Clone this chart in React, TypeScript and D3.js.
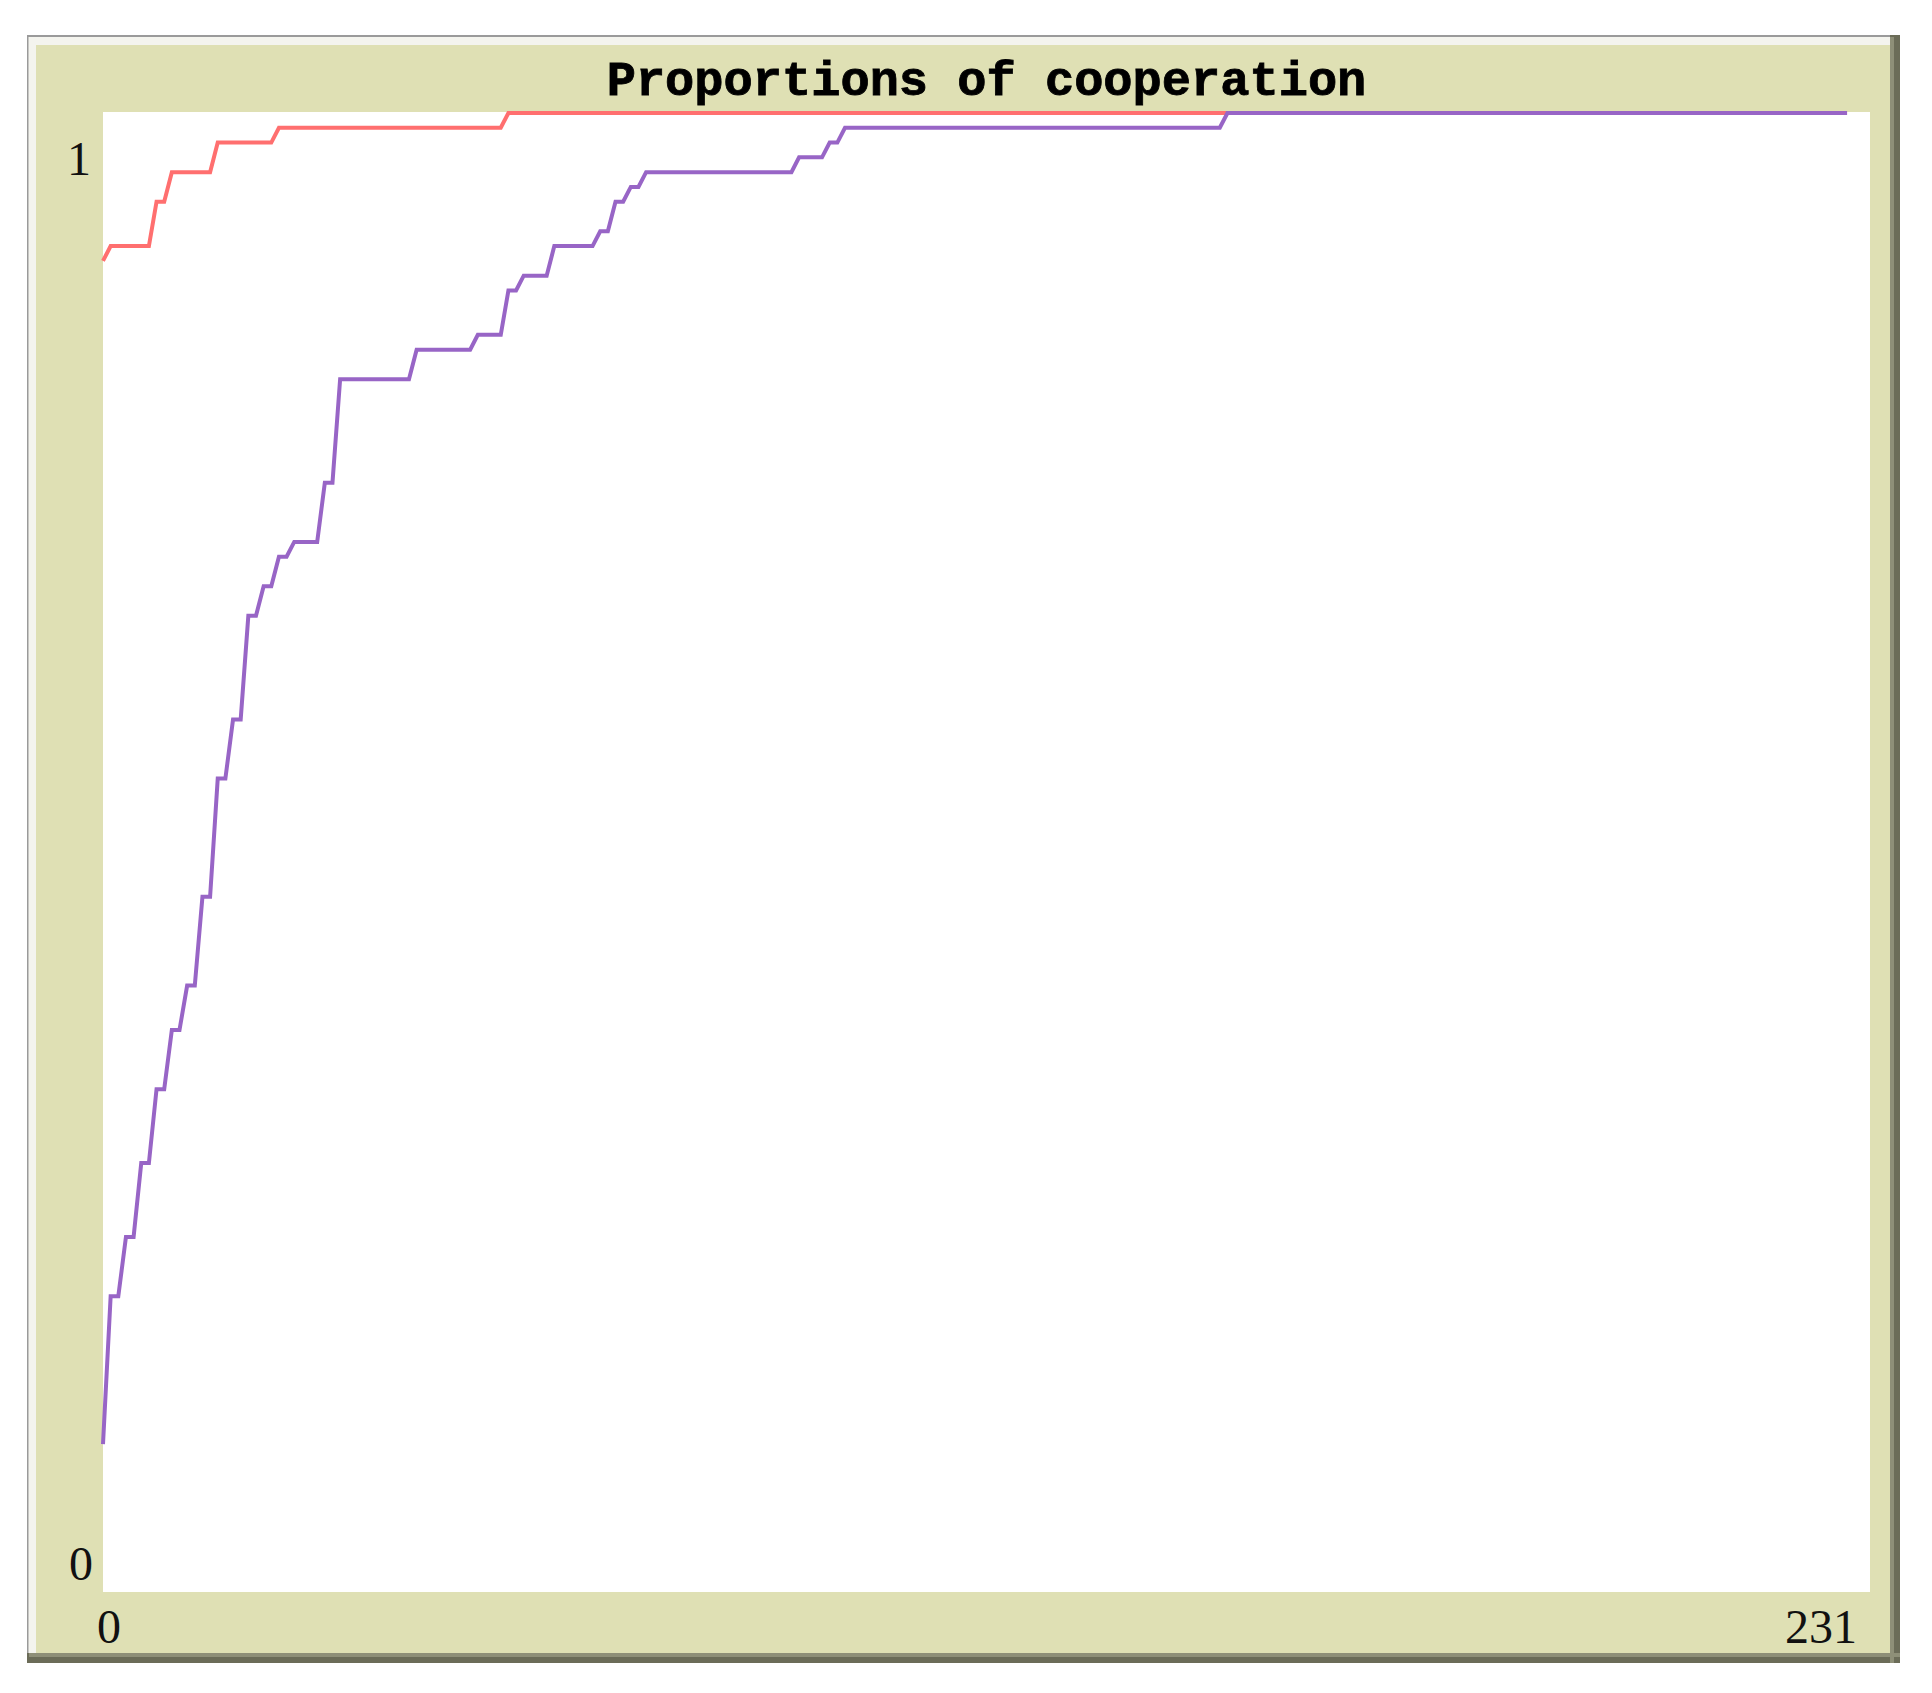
import React from "react";
import * as d3 from "d3";

// ---- data ----
const chartTitle = "Proportions of cooperation";
const xDomain = [0, 231];
const yDomain = [0, 1];
const xTickLabels = ["0", "231"];
const yTickLabels = ["0", "1"];

const redTicks = [0, 1, 6, 7, 8, 9, 14, 15, 22, 23, 52, 53, 228];
const redValues = [0.9, 0.91, 0.91, 0.94, 0.94, 0.96, 0.96, 0.98, 0.98, 0.99, 0.99, 1.0, 1.0];

const violetTicks = [
  0, 1, 2, 3, 4, 5, 6, 7, 8, 9, 10, 11, 12, 13, 14, 15, 16, 17, 18, 19, 20, 21, 22, 23, 24,
  25, 28, 29, 30, 31, 40, 41, 48, 49, 52, 53, 54, 55, 58, 59, 64, 65, 66, 67, 68, 69, 70,
  71, 90, 91, 94, 95, 96, 97, 146, 147, 228,
];
const violetValues = [
  0.1, 0.2, 0.2, 0.24, 0.24, 0.29, 0.29, 0.34, 0.34, 0.38, 0.38, 0.41, 0.41, 0.47, 0.47,
  0.55, 0.55, 0.59, 0.59, 0.66, 0.66, 0.68, 0.68, 0.7, 0.7, 0.71, 0.71, 0.75, 0.75, 0.82,
  0.82, 0.84, 0.84, 0.85, 0.85, 0.88, 0.88, 0.89, 0.89, 0.91, 0.91, 0.92, 0.92, 0.94, 0.94,
  0.95, 0.95, 0.96, 0.96, 0.97, 0.97, 0.98, 0.98, 0.99, 0.99, 1.0, 1.0,
];

const seriesColors = ["#ff6f6f", "#9865c6"];

// ---- layout ----
const W = 1932;
const H = 1693;
const frame = { x0: 27, y0: 35, x1: 1900, y1: 1663 };
const plot = { left: 103, right: 1870, top: 112, bottom: 1592 };

export default function App() {
  const x = d3.scaleLinear().domain(xDomain).range([plot.left, plot.right]);
  const y = d3.scaleLinear().domain(yDomain).range([plot.bottom, plot.top + 1]);

  const line = d3
    .line<[number, number]>()
    .x((d) => x(d[0]))
    .y((d) => y(d[1]))
    .curve(d3.curveLinear);

  const redData: [number, number][] = redTicks.map((t, i) => [t, redValues[i]]);
  const violetData: [number, number][] = violetTicks.map((t, i) => [t, violetValues[i]]);

  const labelFont = "'Liberation Serif', 'Times New Roman', serif";

  return (
    <div style={{ position: "absolute", left: 0, top: 0 }}>
      <svg width={W} height={H} style={{ display: "block", background: "#ffffff" }}>
        {/* outer frame */}
        <rect x={frame.x0} y={frame.y0} width={frame.x1 - frame.x0} height={frame.y1 - frame.y0} fill="#6b6c58" />
        <rect x={frame.x0} y={frame.y0} width={frame.x1 - frame.x0 - 10} height={frame.y1 - frame.y0 - 10} fill="#9a9a9a" />
        <rect x={frame.x0 + 1.5} y={frame.y0 + 2} width={frame.x1 - frame.x0 - 11.5} height={frame.y1 - frame.y0 - 12} fill="#f4f4ee" />
        <rect x={frame.x1 - 10} y={frame.y0 + 2} width={4} height={frame.y1 - frame.y0 - 2} fill="#8e8f78" />
        <rect x={frame.x0 + 2} y={frame.y1 - 10} width={frame.x1 - frame.x0 - 2} height={4} fill="#8e8f78" />
        <rect x={36} y={45} width={frame.x1 - 10 - 36} height={frame.y1 - 10 - 45} fill="#dfe0b4" />

        {/* plot area */}
        <rect x={plot.left} y={plot.top} width={plot.right - plot.left} height={plot.bottom - plot.top} fill="#ffffff" />

        {/* title */}
        <text
          x={(plot.left + plot.right) / 2}
          y={95}
          textAnchor="middle"
          fontFamily="'Liberation Mono', 'DejaVu Sans Mono', monospace"
          fontWeight="bold"
          fontSize={48.7}
          fill="#000"
          stroke="#000"
          strokeWidth={0.8}
        >
          {chartTitle}
        </text>

        {/* axis labels */}
        <text x={91} y={175} textAnchor="end" fontFamily={labelFont} fontSize={48} fill="#111">
          {yTickLabels[1]}
        </text>
        <text x={93} y={1580} textAnchor="end" fontFamily={labelFont} fontSize={48} fill="#111">
          {yTickLabels[0]}
        </text>
        <text x={97} y={1643} textAnchor="start" fontFamily={labelFont} fontSize={48} fill="#111">
          {xTickLabels[0]}
        </text>
        <text x={1857} y={1643} textAnchor="end" fontFamily={labelFont} fontSize={48} fill="#111">
          {xTickLabels[1]}
        </text>

        {/* series */}
        <path d={line(redData) || ""} fill="none" stroke={seriesColors[0]} strokeWidth={4} strokeLinejoin="miter" />
        <path d={line(violetData) || ""} fill="none" stroke={seriesColors[1]} strokeWidth={4} strokeLinejoin="miter" />
      </svg>
    </div>
  );
}
